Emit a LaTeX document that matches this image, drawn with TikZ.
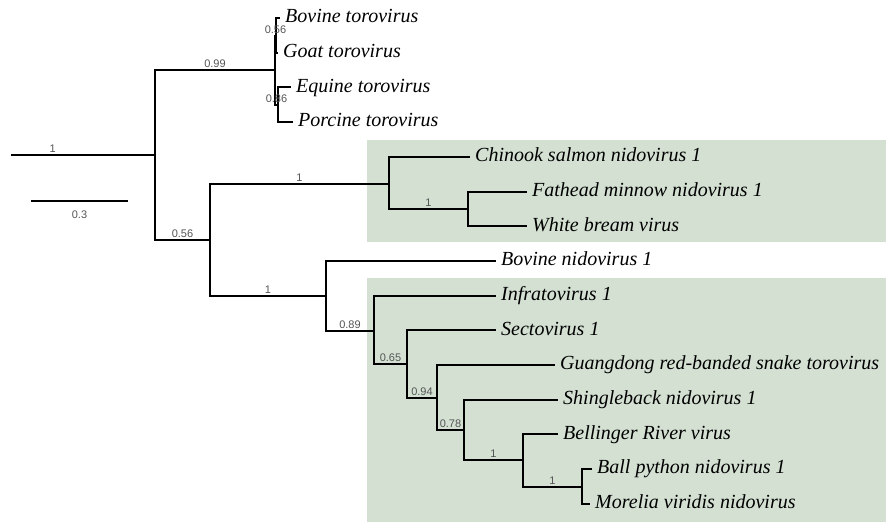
\documentclass[tikz,border=0pt]{standalone}
\usepackage{fontspec}
\setmainfont{Liberation Serif}
\newfontfamily\supfont{Liberation Sans}
\usetikzlibrary{positioning}
\definecolor{cladegreen}{RGB}{211,224,210}
\definecolor{supgray}{RGB}{85,85,85}
\tikzset{
  edge/.style={draw=black,line width=2pt},
  taxon/.style={anchor=west,inner xsep=5pt,inner ysep=0pt,font=\fontsize{20}{24}\selectfont\itshape},
  support/.style={pos=0.75,above,inner sep=2pt,text=supgray,font=\supfont\fontsize{11}{13}\selectfont}
}

\begin{document}
\begin{tikzpicture}[x=1pt,y=-1pt]
\useasboundingbox (0,0) rectangle (886,522);
\fill[white] (0,0) rectangle (886,522);
\fill[cladegreen] (367,140) rectangle (886,242);
\fill[cladegreen] (367,278) rectangle (886,522);

\coordinate (r0) at (11,155);
\coordinate (n1) at (155,155);
\coordinate (nT) at (275,70);
\coordinate (nBG) at (276,35.5);
\coordinate (nEP) at (278,105);
\coordinate (nL) at (210,240);
\coordinate (nF) at (389,183.5);
\coordinate (nF2) at (468,209);
\coordinate (nN) at (326,296);
\coordinate (n89) at (374,330.5);
\coordinate (n65) at (407,364);
\coordinate (n94) at (437,397.5);
\coordinate (n78) at (464,430);
\coordinate (nB1) at (523,460);
\coordinate (nB2) at (582,486.5);

\def\taxa{0/280/nBG/{Bovine torovirus},1/278/nBG/{Goat torovirus},2/291/nEP/{Equine torovirus},3/293/nEP/{Porcine torovirus},4/470/nF/{Chinook salmon nidovirus 1},5/527/nF2/{Fathead minnow nidovirus 1},6/527/nF2/{White bream virus},7/496/nN/{Bovine nidovirus 1},8/496/n89/{Infratovirus 1},9/496/n65/{Sectovirus 1},10/555/n94/{Guangdong red-banded snake torovirus},11/558/n78/{Shingleback nidovirus 1},12/558/nB1/{Bellinger River virus},13/592/nB2/{Ball python nidovirus 1},14/590/nB2/{Morelia viridis nidovirus}}
\foreach \i/\x/\p/\name in \taxa {
  \node[taxon] (t\i) at (\x,{18+34.7*\i}) {\strut \name};
  \path[edge] (\p) |- (t\i.west);
}

\path[edge] (r0) -- (n1);
\path (r0) -- node[support,pos=0.29] {1} (n1);

\def\clades{n1/nT/0.99,n1/nL/0.56,nT/nBG/0.56,nT/nEP/0.86,nL/nF/1,nL/nN/1,nF/nF2/1,nN/n89/0.89,n89/n65/0.65,n65/n94/0.94,n94/n78/0.78,n78/nB1/1,nB1/nB2/1}
\foreach \a/\b/\s in \clades {
  \path[edge] (\a) |- (\b);
  \path (\a) |- node[support] {\s} (\b);
}

\coordinate (s0) at (31,201);
\coordinate (s1) at (128,201);
\draw[line width=1.5pt] (s0) -- (s1);
\path (s0) -- node[support,pos=0.5,anchor=north,yshift=-8pt] {0.3} (s1);
\end{tikzpicture}
\end{document}
